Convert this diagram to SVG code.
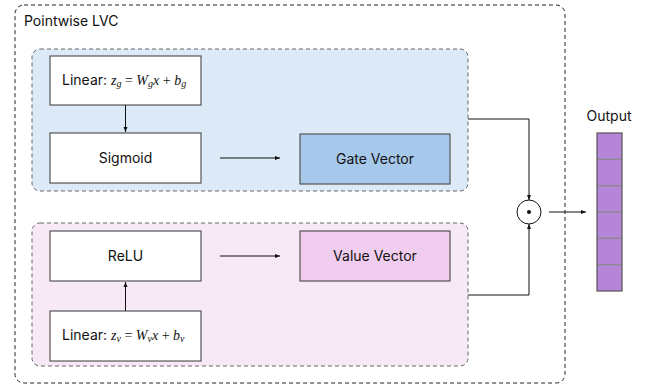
<svg xmlns="http://www.w3.org/2000/svg" width="646" height="387" viewBox="0 0 646 387">
<defs>
<marker id="ah" viewBox="0 0 10 10" refX="10" refY="5" markerWidth="5" markerHeight="5" orient="auto">
<path d="M0,1 L10,5 L0,9 z" fill="#111"/>
</marker>
<style>
.t{font-family:Inter,"Noto Sans","Liberation Sans",sans-serif;font-size:14px;fill:#111;font-weight:400;}
.m{font-family:"Liberation Serif","DejaVu Serif",serif;font-style:italic;font-size:14px;}
.mr{font-family:"Liberation Serif","DejaVu Serif",serif;font-style:normal;font-size:14px;}
.sub{font-size:10px;}
.box{fill:#fff;stroke:#555;stroke-width:1.2;}
.ln{fill:none;stroke:#111;stroke-width:1;}
.grp{stroke:#666;stroke-width:1;stroke-dasharray:4 3;}
</style>
</defs>
<rect width="646" height="387" fill="#fff"/>
<g id="outer">
<rect x="15" y="5" width="550" height="378" rx="9" fill="none" stroke="#222" stroke-width="1" stroke-dasharray="4 3"/>
<text class="t" x="24" y="26">Pointwise LVC</text>
</g>
<g id="gate-group">
<rect class="grp" x="32" y="49" width="436" height="142" rx="8" fill="#dce9f6"/>
</g>
<g id="value-group">
<rect class="grp" x="32" y="223" width="436" height="143" rx="8" fill="#f8e9f7"/>
</g>
<g id="linear-g">
<rect class="box" x="50" y="56" width="151" height="49"/>
<text class="t" x="62" y="85">Linear: <tspan class="m">z</tspan><tspan class="m sub" dy="2">g</tspan><tspan class="mr" dy="-2"> = </tspan><tspan class="m">W</tspan><tspan class="m sub" dy="2">g</tspan><tspan class="m" dy="-2">x</tspan><tspan class="mr"> + </tspan><tspan class="m">b</tspan><tspan class="m sub" dy="2">g</tspan></text>
</g>
<g id="sigmoid">
<rect class="box" x="50" y="133" width="151" height="50"/>
<text class="t" x="125.5" y="163" text-anchor="middle">Sigmoid</text>
</g>
<g id="gate-vector">
<rect x="300" y="134" width="150" height="50" fill="#a6c8ea" stroke="#555" stroke-width="1.2"/>
<text class="t" x="375" y="164" text-anchor="middle">Gate Vector</text>
</g>
<g id="relu">
<rect class="box" x="50" y="231" width="151" height="50"/>
<text class="t" x="125.5" y="261" text-anchor="middle">ReLU</text>
</g>
<g id="linear-v">
<rect class="box" x="50" y="311" width="151" height="50"/>
<text class="t" x="62" y="340">Linear: <tspan class="m">z</tspan><tspan class="m sub" dy="2">v</tspan><tspan class="mr" dy="-2"> = </tspan><tspan class="m">W</tspan><tspan class="m sub" dy="2">v</tspan><tspan class="m" dy="-2">x</tspan><tspan class="mr"> + </tspan><tspan class="m">b</tspan><tspan class="m sub" dy="2">v</tspan></text>
</g>
<g id="value-vector">
<rect x="300" y="231" width="150" height="50" fill="#f0cdee" stroke="#555" stroke-width="1.2"/>
<text class="t" x="375" y="261" text-anchor="middle">Value Vector</text>
</g>
<g id="hadamard">
<circle cx="529" cy="212" r="12" fill="#fff" stroke="#111" stroke-width="1"/>
<circle cx="529" cy="212" r="2" fill="#111"/>
</g>
<g id="output">
<text class="t" x="609" y="121" text-anchor="middle">Output</text>
<rect x="597" y="133" width="25" height="158" fill="#b586d8"/>
<g stroke="#888" stroke-width="1.2">
<line x1="597" y1="159.3" x2="622" y2="159.3"/>
<line x1="597" y1="185.7" x2="622" y2="185.7"/>
<line x1="597" y1="212" x2="622" y2="212"/>
<line x1="597" y1="238.3" x2="622" y2="238.3"/>
<line x1="597" y1="264.7" x2="622" y2="264.7"/>
</g>
<rect x="597" y="133" width="25" height="158" fill="none" stroke="#555" stroke-width="1.2"/>
</g>
<g id="connectors">
<line class="ln" x1="125.5" y1="105" x2="125.5" y2="132" marker-end="url(#ah)"/>
<line class="ln" x1="220" y1="158" x2="280" y2="158" marker-end="url(#ah)"/>
<line class="ln" x1="125.5" y1="311" x2="125.5" y2="282" marker-end="url(#ah)"/>
<line class="ln" x1="220" y1="256" x2="280" y2="256" marker-end="url(#ah)"/>
<polyline class="ln" points="468,119 529,119 529,200" marker-end="url(#ah)"/>
<polyline class="ln" points="468,295 529,295 529,224" marker-end="url(#ah)"/>
<line class="ln" x1="549" y1="212" x2="586" y2="212" marker-end="url(#ah)"/>
</g>
</svg>
